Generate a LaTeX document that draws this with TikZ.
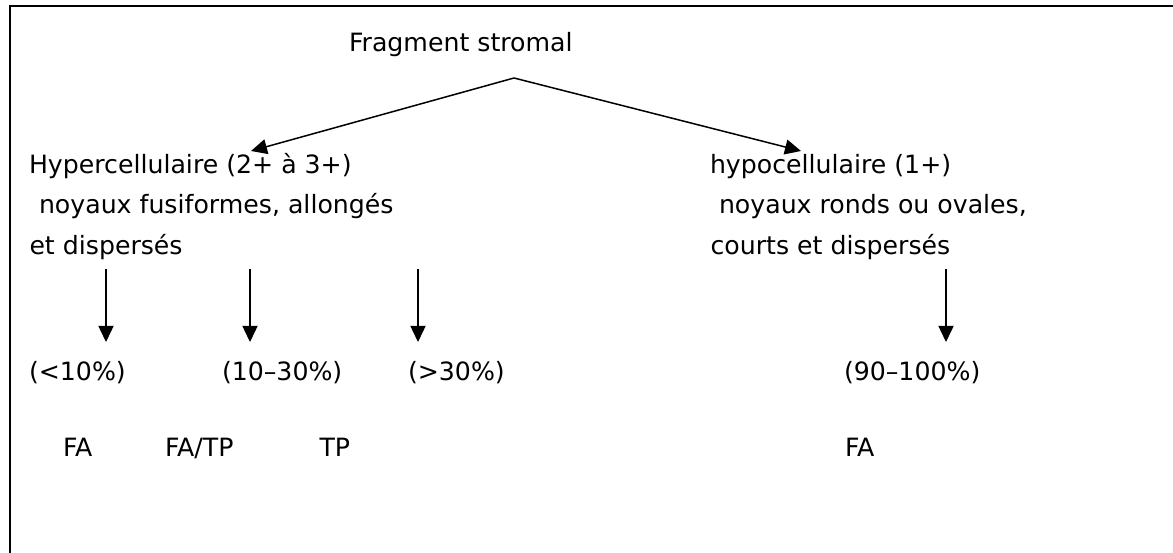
\documentclass[tikz,border=0pt]{standalone}
\usepackage{fontspec}
\setmainfont{DejaVu Sans}
\usetikzlibrary{arrows.meta}
\begin{document}
\begin{tikzpicture}[x=1pt,y=-1pt,
  lbl/.style={anchor=base west,inner sep=0pt,outer sep=0pt,font=\fontsize{25.2}{30}\selectfont},
  arr/.style={line width=1.5pt,-{Triangle[length=16pt,width=15pt]}},
  frame/.style={line width=2pt}]
\useasboundingbox (0,0) rectangle (1173,553);
\draw[frame] (9.5,553) -- (9.5,6) -- (1173,6);
% texts
\node[lbl] (frag) at (349,52) {Fragment stromal};
\node[lbl] (hyper) at (29,174) {Hypercellulaire (2+ à 3+)};
\node[lbl] (hyperb) at (39,214) {noyaux fusiformes, allongés};
\node[lbl] (hyperc) at (29.5,255) {et dispersés};
\node[lbl] (hypo) at (710,174) {hypocellulaire (1+)};
\node[lbl] (hypob) at (719,214) {noyaux ronds ou ovales,};
\node[lbl] (hypoc) at (710.5,255) {courts et dispersés};
\node[lbl] (p1) at (29,381) {(<10\%)};
\node[lbl] (p2) at (222,381) {(10–30\%)};
\node[lbl] (p3) at (408,381) {(>30\%)};
\node[lbl] (p4) at (844,381) {(90–100\%)};
\node[lbl] (d1) at (63,456) {FA};
\node[lbl] (d2) at (165,456) {FA/TP};
\node[lbl] (d3) at (319.5,456) {TP};
\node[lbl] (d4) at (845,456) {FA};
% connectors
\coordinate (apex) at (514,78);
\coordinate (tipL) at (251,151);
\coordinate (tipR) at (801,151);
\draw[arr] (apex) -- (tipL);
\draw[arr] (apex) -- (tipR);
\coordinate (s1) at (106,269); \coordinate (e1) at (106,342);
\coordinate (s2) at (250,269); \coordinate (e2) at (250,342);
\coordinate (s3) at (418,269); \coordinate (e3) at (418,342);
\coordinate (s4) at (946,269); \coordinate (e4) at (946,342);
\draw[arr] (s1) -- (e1);
\draw[arr] (s2) -- (e2);
\draw[arr] (s3) -- (e3);
\draw[arr] (s4) -- (e4);
\end{tikzpicture}
\end{document}
